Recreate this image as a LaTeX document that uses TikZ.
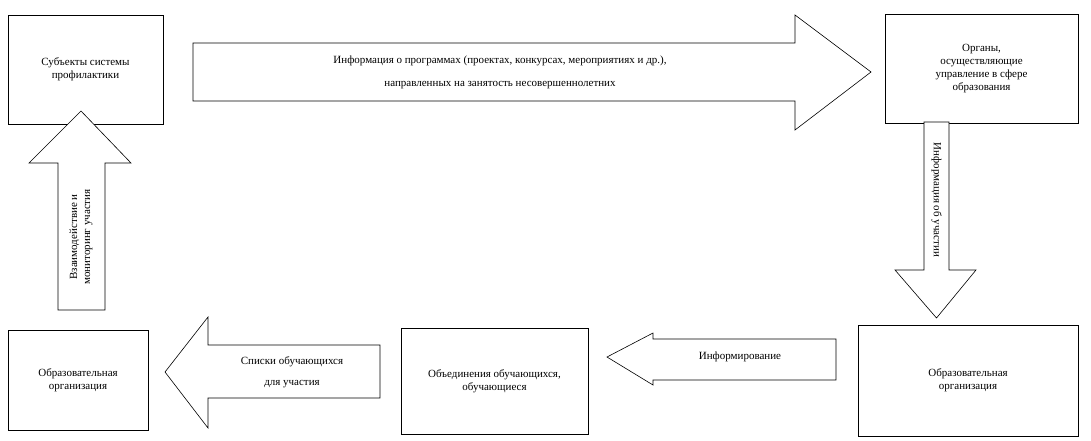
\documentclass[tikz,border=0pt]{standalone}
\usepackage{fontspec}
\setmainfont{Liberation Serif}
\usetikzlibrary{positioning}
\tikzset{
  box/.style={draw, semithick, align=center, font=\fontsize{11}{13}\selectfont, inner sep=2pt},
  fat/.style={draw, semithick, fill=white},
  lbl/.style={align=center, font=\fontsize{11}{13}\selectfont}
}
\begin{document}
\begin{tikzpicture}[x=1pt, y=-1pt]
\useasboundingbox (0,0) rectangle (1091,441);
% boxes
\node[box, minimum width=155pt, minimum height=109pt] (subj) at (85.5,69.5) {Субъекты системы\\профилактики};
\node[box, minimum width=193pt, minimum height=109pt] (org) at (981.5,68.5) {Органы,\\осуществляющие\\управление в сфере\\образования};
\node[box, minimum width=220pt, minimum height=111pt] (eduR) at (968,380.5) {Образовательная\\организация};
\node[box, minimum width=187pt, minimum height=106pt] (unite) at (494.5,381) {Объединения обучающихся,\\обучающиеся};
\node[box, minimum width=140pt, minimum height=100pt] (eduL) at (78,380) {Образовательная\\организация};
% block arrows
\draw[fat] (193,43) -- (795,43) -- (795,15) -- (871,72) -- (795,130) -- (795,101) -- (193,101) -- cycle;
\draw[fat] (924,122) -- (949,122) -- (949,270) -- (976,270) -- (936.5,318) -- (895,270) -- (924,270) -- cycle;
\draw[fat] (836,339) -- (653,339) -- (653,333) -- (607,357) -- (653,385) -- (653,380) -- (836,380) -- cycle;
\draw[fat] (380,345) -- (208,345) -- (208,317) -- (165,372) -- (208,428) -- (208,398) -- (380,398) -- cycle;
\draw[fat] (58,310) -- (58,163) -- (29,163) -- (81,111) -- (131,163) -- (105,163) -- (105,310) -- cycle;
% labels
\node[lbl] (infoTop) at (500,72) {Информация о программах (проектах, конкурсах, мероприятиях и др.),\\[10pt]направленных на занятость несовершеннолетних};
\node[lbl, rotate=-90] (infoPart) at (936.5,200) {Информация об участии};
\node[lbl] (inform) at (740,357) {Информирование};
\node[lbl] (lists) at (292,372) {Списки обучающихся\\[8pt]для участия};
\node[lbl, rotate=90] (interact) at (81,237) {Взаимодействие и\\мониторинг участия};
\end{tikzpicture}
\end{document}
